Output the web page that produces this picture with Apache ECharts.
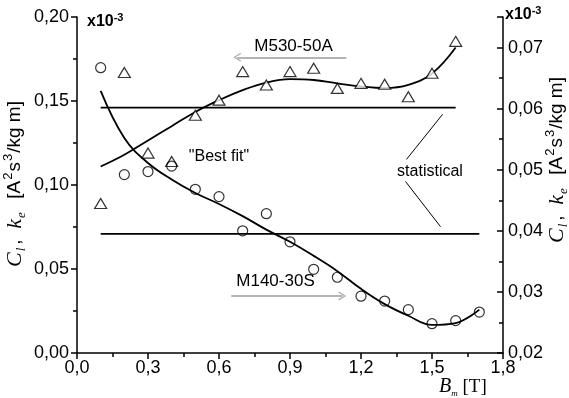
<!DOCTYPE html>
<html>
<head>
<meta charset="utf-8">
<script src="https://cdn.jsdelivr.net/npm/echarts@6/dist/echarts.min.js"></script>
<style>
  html, body { margin: 0; padding: 0; background: #fff; }
  #main { width: 569px; height: 398px; }
</style>
</head>
<body>
<div id="main"></div>
<script>
// B_m values [T]
var bTri = [0.1, 0.2, 0.3, 0.4, 0.5, 0.6, 0.7, 0.8, 0.9, 1.0, 1.1, 1.2, 1.3, 1.4, 1.5, 1.6];
var bCirc = [0.1, 0.2, 0.3, 0.4, 0.5, 0.6, 0.7, 0.8, 0.9, 1.0, 1.1, 1.2, 1.3, 1.4, 1.5, 1.6, 1.7];

// M530-50A measured (left axis, x10^-3)
var triVals = [0.089, 0.167, 0.119, 0.114, 0.1415, 0.1505, 0.1675, 0.1595, 0.1675, 0.1695,
  0.1575, 0.1605, 0.16, 0.1525, 0.1665, 0.1855];
// M140-30S measured (right axis, x10^-3)
var circVals = [0.0667, 0.0492, 0.0497, 0.0506, 0.0468, 0.0456, 0.040, 0.0428, 0.0382, 0.0337,
  0.0324, 0.0293, 0.0285, 0.0271, 0.0248, 0.0253, 0.0267];

// "Best fit" curves
var triFit = [0.111, 0.118, 0.1265, 0.135, 0.1435, 0.1505, 0.1565, 0.161, 0.163, 0.1625,
  0.1605, 0.1587, 0.1577, 0.1596, 0.1664, 0.1819];
var circFit = [0.0629, 0.0552, 0.0511, 0.0484, 0.0462, 0.0444, 0.0424, 0.0402, 0.0382, 0.0359,
  0.0334, 0.0305, 0.0280, 0.0261, 0.0246, 0.0249, 0.0271];

// "statistical" constants
var statTri = 0.146;
var statCirc = 0.0395;

function pairs(xs, ys) {
  return xs.map(function (x, i) { return [x, ys[i]]; });
}
function comma(d) {
  return function (v) { return v.toFixed(d).replace('.', ','); };
}

var sans = 'Liberation Sans';
var serif = 'Liberation Serif';
var chevron = 'path://M5,0 L10,9 L8.6,10 L5,3.2 L1.4,10 L0,9 Z';

var nameRich = {
  i: { fontFamily: serif, fontStyle: 'italic', fontSize: 22, lineHeight: 26, color: '#000' },
  sub: { fontFamily: serif, fontStyle: 'italic', fontSize: 13, lineHeight: 13, verticalAlign: 'bottom',
    padding: [0, 3, 0, 1], color: '#000' },
  n: { fontFamily: sans, fontSize: 19, lineHeight: 26, color: '#000' },
  sup: { fontFamily: sans, fontSize: 13, lineHeight: 13, verticalAlign: 'top', padding: [0, 1, 0, 1], color: '#000' }
};
var nameText = '{i|C}{sub|l}{n|,  }{i|k}{sub|e}{n|  [A}{sup|2}{n|s}{sup|3}{n|/kg m]}';

var myChart = echarts.init(document.getElementById('main'));

var axisLabel = { color: '#000', fontFamily: sans, fontSize: 18 };
var x10Rich = {
  b: { fontFamily: sans, fontWeight: 'bold', fontSize: 16, lineHeight: 20, fill: '#000' },
  s: { fontFamily: sans, fontWeight: 'bold', fontSize: 11, lineHeight: 11, verticalAlign: 'top', fill: '#000' }
};

myChart.setOption({
  animation: false,
  backgroundColor: '#fff',
  grid: { left: 77, right: 66, top: 17, bottom: 45 },
  xAxis: {
    type: 'value', min: 0, max: 1.8, interval: 0.3,
    axisLine: { show: true, lineStyle: { color: '#000', width: 1.5 } },
    axisTick: { show: true, length: 6, lineStyle: { color: '#000', width: 1.5 } },
    minorTick: { show: true, splitNumber: 2, length: 4, lineStyle: { color: '#000', width: 1.5 } },
    splitLine: { show: false },
    axisLabel: Object.assign({ margin: 6, formatter: comma(1) }, axisLabel)
  },
  yAxis: [{
    type: 'value', min: 0, max: 0.2, interval: 0.05, position: 'left',
    axisLine: { show: true, lineStyle: { color: '#000', width: 1.5 } },
    axisTick: { show: true, length: 6, lineStyle: { color: '#000', width: 1.5 } },
    minorTick: { show: true, splitNumber: 2, length: 4, lineStyle: { color: '#000', width: 1.5 } },
    splitLine: { show: false },
    axisLabel: Object.assign({ margin: 8, formatter: comma(2) }, axisLabel)
  }, {
    type: 'value', min: 0.02, max: 0.075, interval: 0.01, position: 'right',
    axisLine: { show: true, lineStyle: { color: '#000', width: 1.5 } },
    axisTick: { show: true, inside: true, length: 6, lineStyle: { color: '#000', width: 1.5 } },
    minorTick: { show: true, splitNumber: 2, length: 4, lineStyle: { color: '#000', width: 1.5 } },
    splitLine: { show: false },
    axisLabel: Object.assign({ margin: 5, showMaxLabel: false, formatter: comma(2) }, axisLabel)
  }],
  series: [{
    type: 'scatter', yAxisIndex: 0, data: pairs(bTri, triVals),
    symbol: 'triangle', symbolSize: [12, 10],
    itemStyle: { color: '#fff', borderColor: '#000', borderWidth: 1.2 }, z: 5
  }, {
    type: 'scatter', yAxisIndex: 1, data: pairs(bCirc, circVals),
    symbol: 'circle', symbolSize: 10,
    itemStyle: { color: 'rgba(255,255,255,0)', borderColor: '#000', borderWidth: 1.2 }, z: 5
  }, {
    type: 'line', yAxisIndex: 0, data: pairs(bTri, triFit), smooth: 0.4,
    showSymbol: false, lineStyle: { color: '#000', width: 1.8 }
  }, {
    type: 'line', yAxisIndex: 1, data: pairs(bCirc, circFit), smooth: 0.4,
    showSymbol: false, lineStyle: { color: '#000', width: 1.8 }
  }, {
    type: 'line', yAxisIndex: 0, showSymbol: false,
    data: [[bTri[0], statTri], [bTri[bTri.length - 1], statTri]],
    lineStyle: { color: '#000', width: 1.8 },
    markLine: {
      silent: true, animation: false,
      label: { show: false },
      symbol: ['none', 'none'],
      lineStyle: { type: 'solid', color: '#000', width: 1 },
      data: [
        [{ coord: [1.545, 0.1421] }, { coord: [1.392, 0.1152] }],
        [{ coord: [1.388, 0.1021] }, { coord: [1.536, 0.0752] }],
        [{ coord: [0.677, 0.176], symbol: chevron, symbolSize: [9, 8],
           lineStyle: { color: '#b4b4b4', width: 2 } },
         { coord: [1.138, 0.176], symbol: 'none', lineStyle: { color: '#b4b4b4', width: 2 } }],
        [{ coord: [0.652, 0.034], symbol: 'none', lineStyle: { color: '#b4b4b4', width: 2 } },
         { coord: [1.121, 0.034], symbol: chevron, symbolSize: [9, 8],
           lineStyle: { color: '#b4b4b4', width: 2 } }]
      ]
    }
  }, {
    type: 'line', yAxisIndex: 1, showSymbol: false,
    data: [[bCirc[0], statCirc], [bCirc[bCirc.length - 1], statCirc]],
    lineStyle: { color: '#000', width: 1.8 }
  }],
  graphic: [
    { type: 'text', x: 293.5, y: 46.5, style: { text: 'M530-50A', font: '17px "Liberation Sans"', fill: '#000', align: 'center', verticalAlign: 'middle' } },
    { type: 'text', x: 275.5, y: 281.5, style: { text: 'M140-30S', font: '17px "Liberation Sans"', fill: '#000', align: 'center', verticalAlign: 'middle' } },
    { type: 'text', x: 219, y: 157, style: { text: '"Best fit"', font: '16px "Liberation Sans"', fill: '#000', align: 'center', verticalAlign: 'middle' } },
    { type: 'text', x: 430, y: 171.5, style: { text: 'statistical', font: '16px "Liberation Sans"', fill: '#000', align: 'center', verticalAlign: 'middle' } },
    { type: 'text', x: 87, y: 22, style: { text: '{b|x10}{s|-3}', align: 'left', verticalAlign: 'middle', rich: x10Rich } },
    { type: 'text', x: 505, y: 15, style: { text: '{b|x10}{s|-3}', align: 'left', verticalAlign: 'middle', rich: x10Rich } },
    { type: 'text', x: 15, y: 184, rotation: Math.PI / 2, style: {
      text: nameText, align: 'center', verticalAlign: 'middle', rich: nameRich } },
    { type: 'text', x: 557, y: 160, rotation: Math.PI / 2, style: {
      text: nameText, align: 'center', verticalAlign: 'middle', rich: nameRich } },
    { type: 'text', x: 439, y: 387, style: {
      text: '{i|B}{sub|m}{t| [T]}', align: 'left', verticalAlign: 'middle',
      rich: {
        i: { fontFamily: serif, fontStyle: 'italic', fontSize: 20, lineHeight: 22, fill: '#000' },
        sub: { fontFamily: serif, fontStyle: 'italic', fontSize: 9, lineHeight: 9, verticalAlign: 'bottom', fill: '#000' },
        t: { fontFamily: serif, fontSize: 19, lineHeight: 22, fill: '#000' }
      } } }
  ]
});
</script>
</body>
</html>
